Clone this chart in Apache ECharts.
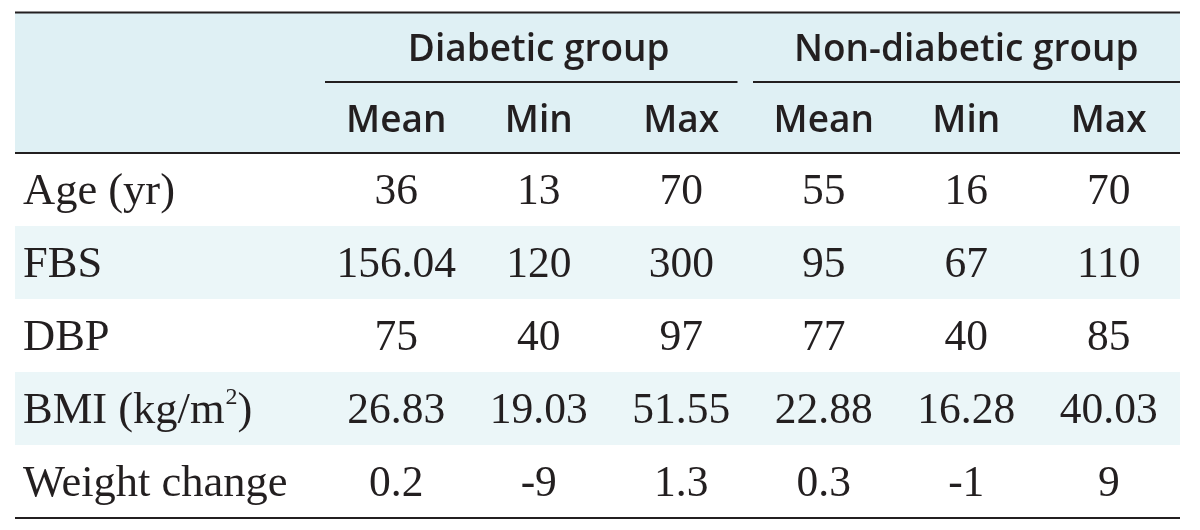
<!DOCTYPE html>
<html>
<head>
<meta charset="utf-8">
<script src="https://cdn.jsdelivr.net/npm/echarts@6/dist/echarts.min.js"></script>
<style>
html,body{margin:0;padding:0;background:#fff;}
#chart{width:1200px;height:530px;}
</style>
</head>
<body>
<div id="chart"></div>
<script>
// ---- data ----
const groups = ['Diabetic group', 'Non-diabetic group'];
const statLabels = ['Mean', 'Min', 'Max', 'Mean', 'Min', 'Max'];
const rowLabels = ['Age (yr)', 'FBS', 'DBP', 'BMI (kg/m²)', 'Weight change'];
const diabeticMean = [36, 156.04, 75, 26.83, 0.2];
const diabeticMin = [13, 120, 40, 19.03, -9];
const diabeticMax = [70, 300, 97, 51.55, 1.3];
const nonDiabeticMean = [55, 95, 77, 22.88, 0.3];
const nonDiabeticMin = [16, 67, 40, 16.28, -1];
const nonDiabeticMax = [70, 110, 85, 40.03, 9];

const valueColumns = [diabeticMean, diabeticMin, diabeticMax, nonDiabeticMean, nonDiabeticMin, nonDiabeticMax];

// ---- layout / style ----
const LABEL_COL_W = 310;
const HEADER_H = 140;
const INK = '#231f20';
const HEAD_BG = '#dff0f4';
const BAND_BG = '#ebf6f8';
const SERIF = '"Liberation Serif", "Times New Roman", serif';
const SANS = '"Open Sans", "Noto Sans", sans-serif';

const cellData = [];
valueColumns.forEach((col, c) => col.forEach((v, r) => cellData.push([c, r, v])));

const chart = echarts.init(document.getElementById('chart'), null, {renderer: 'canvas'});

function frameRender(params, api) {
  const cs = params.coordSys;
  const left = cs.x - LABEL_COL_W;
  const right = cs.x + cs.width;
  const top = cs.y - HEADER_H;
  const bottom = cs.y + cs.height;
  const colW = api.size([1, 0])[0];
  const children = [
    {type: 'rect', shape: {x: left, y: top, width: right - left, height: HEADER_H}, style: {fill: HEAD_BG}},
    {type: 'line', shape: {x1: left, y1: top - 0.5, x2: right, y2: top - 0.5}, style: {stroke: INK, lineWidth: 2.2}},
    {type: 'line', shape: {x1: left, y1: cs.y, x2: right, y2: cs.y}, style: {stroke: INK, lineWidth: 2.2}},
    {type: 'line', shape: {x1: left, y1: bottom, x2: right, y2: bottom}, style: {stroke: INK, lineWidth: 2.2}}
  ];
  const per = statLabels.length / groups.length;
  groups.forEach((g, gi) => {
    const a = api.coord([gi * per, 0])[0] - colW / 2;
    const b = api.coord([gi * per + per - 1, 0])[0] + colW / 2;
    const ly = cs.y - HEADER_H / 2;
    children.push({
      type: 'line',
      shape: {x1: a + (gi > 0 ? 0.5 : 0), y1: ly - 1, x2: b - (gi < groups.length - 1 ? 15 : 0), y2: ly - 1},
      style: {stroke: INK, lineWidth: 1.8}
    });
  });
  return {type: 'group', children};
}

function bandRender(params, api) {
  const r = api.value(1);
  if (r % 2 === 0) return null;
  const cs = params.coordSys;
  const p = api.coord([0, r]);
  const h = api.size([0, 1])[1];
  return {
    type: 'rect',
    shape: {x: cs.x - LABEL_COL_W, y: p[1] - h / 2, width: cs.width + LABEL_COL_W, height: h},
    style: {fill: BAND_BG}
  };
}

function cellRender(params, api) {
  const p = api.coord([api.value(0), api.value(1)]);
  return {
    type: 'text',
    x: p[0], y: p[1] + 3,
    style: {
      text: String(api.value(2)),
      fill: INK,
      fontSize: 43.5,
      fontFamily: SERIF,
      align: 'center',
      verticalAlign: 'middle'
    }
  };
}

const option = {
  animation: false,
  backgroundColor: '#fff',
  grid: {left: 325, right: 20, top: 153, bottom: 12, containLabel: false},
  xAxis: [
    {
      type: 'category', data: statLabels, position: 'top', z: 10,
      axisLine: {show: false}, axisTick: {show: false}, splitLine: {show: false},
      axisLabel: {
        margin: 32, verticalAlign: 'middle', color: INK,
        fontSize: 37, fontFamily: SANS, fontWeight: 600, interval: 0
      }
    },
    {
      type: 'category', data: groups, position: 'top', offset: 70, z: 10,
      axisLine: {show: false}, axisTick: {show: false}, splitLine: {show: false},
      axisLabel: {
        margin: 33, verticalAlign: 'middle', color: INK,
        fontSize: 37, fontFamily: SANS, fontWeight: 600, interval: 0
      }
    }
  ],
  yAxis: {
    type: 'category', data: rowLabels, inverse: true, z: 10,
    axisLine: {show: false}, axisTick: {show: false}, splitLine: {show: false},
    axisLabel: {
      margin: 302, align: 'left', verticalAlign: 'middle', color: INK,
      fontSize: 44, fontFamily: SERIF, interval: 0, padding: [5, 0, 0, 0],
      formatter: function (v) {
        if (v.indexOf('²') >= 0) {
          const parts = v.split('²');
          return '{n|' + parts[0] + '}{s|2}{n|' + parts[1] + '}';
        }
        return '{n|' + v + '}';
      },
      rich: {
        n: {fontSize: 44.5, fontFamily: SERIF, color: INK, lineHeight: 50},
        s: {fontSize: 24, fontFamily: SERIF, color: INK, verticalAlign: 'top', lineHeight: 28, padding: [0, 0, 0, 1]}
      }
    }
  },
  series: [
    {type: 'custom', name: 'frame', xAxisIndex: 0, yAxisIndex: 0, z: 1, silent: true,
     renderItem: frameRender, data: [[0, 0]], clip: false},
    {type: 'custom', name: 'bands', xAxisIndex: 0, yAxisIndex: 0, z: 2, silent: true,
     renderItem: bandRender, data: rowLabels.map((_, i) => [0, i]), clip: false},
    {type: 'custom', name: 'cells', xAxisIndex: 0, yAxisIndex: 0, z: 5, silent: true,
     renderItem: cellRender, data: cellData, encode: {x: 0, y: 1}, clip: false}
  ]
};
chart.setOption(option);
</script>
</body>
</html>
